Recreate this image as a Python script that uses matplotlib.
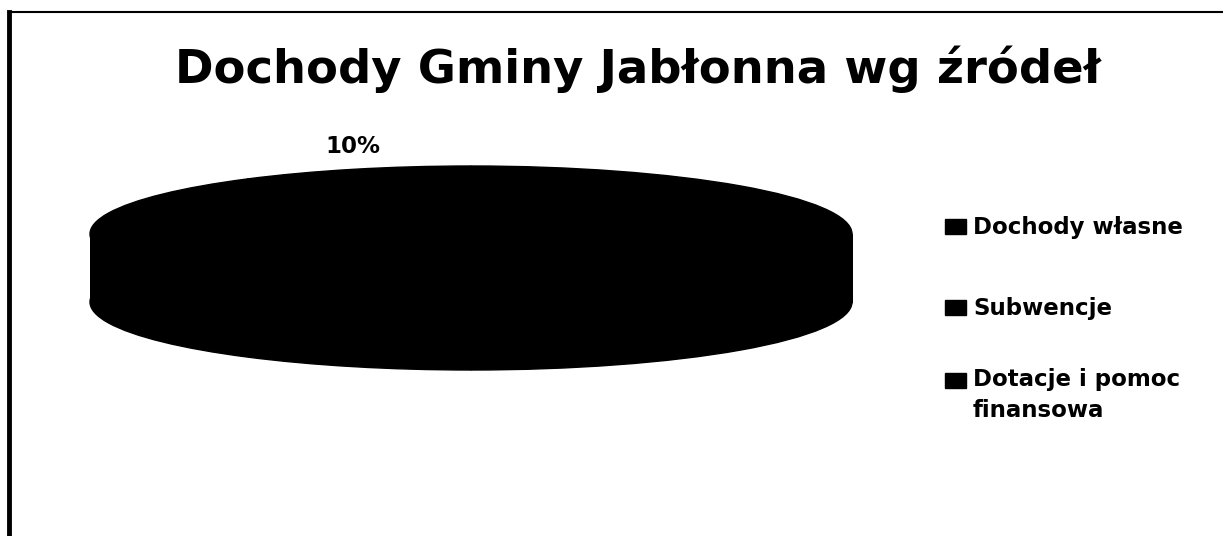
import matplotlib.pyplot as plt
from matplotlib.patches import Rectangle
from matplotlib.lines import Line2D
from matplotlib.transforms import offset_copy

# data
title = "Dochody Gminy Jabłonna wg źródeł"
categories = ["Dochody własne", "Subwencje", "Dotacje i pomoc\nfinansowa"]
shares = [50, 40, 10]
colors = ["#000000", "#000000", "#000000"]  # the scan turned every slice black

plt.rcParams['font.family'] = ['DejaVu Sans']

W, H = 1223, 536
fig = plt.figure(figsize=(W / 100, H / 100), dpi=100)

# pie area in pixels: x 90..852, y 150..380 (from top)
ax = fig.add_axes([90 / W, (H - 380) / H, 762 / W, 230 / H])
depth = 1.0  # thickness of the disc in y units
wp = dict(edgecolor="black", linewidth=1)

# bottom face, side, top face
ax.pie(shares, colors=colors, startangle=90, counterclock=False,
       center=(0, -depth), wedgeprops=wp)
ax.fill_between([-1, 1], -depth, 0, color="black", lw=1)
wedges, texts, autotexts = ax.pie(
    shares, colors=colors, startangle=90, counterclock=False, wedgeprops=wp,
    autopct=lambda p: f"{p:.0f}%" if p < 15 else "", pctdistance=1.0,
    textprops=dict(fontsize=16.5, fontweight="bold", color="black"))

# only the small slice label shows, sitting just above the rim
lift = offset_copy(ax.transData, fig=fig, y=11, units="dots")
for t in autotexts:
    t.set_transform(lift)
    t.set_verticalalignment("bottom")

ax.set_aspect("auto")
ax.set_xlim(-1, 1)
ax.set_ylim(-146 / 68, 84 / 68)
ax.axis("off")

fig.text(638 / W, 1 - 83 / H, title, ha="center", va="baseline",
         fontsize=33.5, fontweight="bold")

# legend, drawn by hand so the marker sits on the first line of each entry
first_baselines = [234, 315, 388]
line_step = 29  # px between wrapped lines
for name, c, yb in zip(categories, colors, first_baselines):
    fig.add_artist(Rectangle((945 / W, (H - yb) / H), 21 / W, 15 / H,
                             transform=fig.transFigure, facecolor=c, edgecolor=c))
    last = yb + line_step * name.count("\n")
    fig.text(973 / W, 1 - last / H, name, ha="left", va="baseline",
             fontsize=16.5, fontweight="bold", linespacing=1.45)

# frame of the scanned page
fig.add_artist(Line2D([9 / W, 9 / W], [0, 1 - 12 / H], transform=fig.transFigure,
                      color="black", lw=3.5))
fig.add_artist(Line2D([9 / W, 1], [1 - 12 / H, 1 - 12 / H], transform=fig.transFigure,
                      color="black", lw=1.5))

fig.savefig("out.png", dpi=100)
